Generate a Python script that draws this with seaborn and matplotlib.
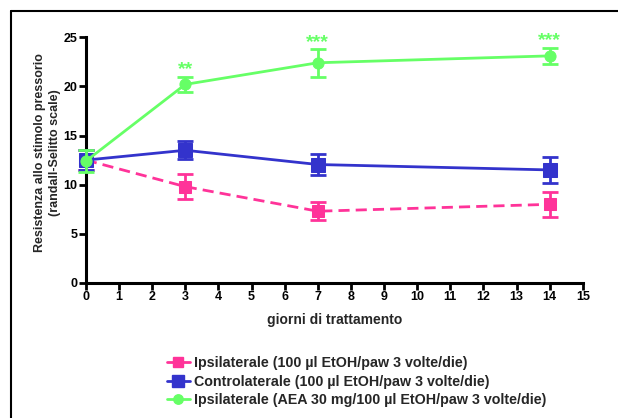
import matplotlib
matplotlib.use("Agg")
import matplotlib.pyplot as plt
import seaborn as sns
import pandas as pd
from matplotlib.lines import Line2D

days = [0, 3, 7, 14]
ipsi_mean = [12.5, 9.8, 7.3, 8.0]
ipsi_err = [1.0, 1.25, 0.9, 1.3]
contro_mean = [12.5, 13.5, 12.05, 11.5]
contro_err = [1.0, 0.9, 1.1, 1.3]
aea_mean = [12.4, 20.2, 22.4, 23.1]
aea_err = [1.1, 0.8, 1.4, 0.8]
labels = ["Ipsilaterale (100 \u00b5l EtOH/paw 3 volte/die)",
          "Controlaterale (100 \u00b5l EtOH/paw 3 volte/die)",
          "Ipsilaterale (AEA 30 mg/100 \u00b5l EtOH/paw 3 volte/die)"]
stars_x = [3, 7, 14]
stars_y = [21.7, 24.5, 24.7]
stars_txt = ["**", "***", "***"]

pink = "#FF3399"
blue = "#3333CC"
green = "#66FF66"

sns.set_style("ticks")
plt.rcParams['font.family'] = ['Liberation Sans', 'DejaVu Sans']
plt.rcParams['font.weight'] = 'bold'

fig = plt.figure(figsize=(6.18, 4.18), dpi=100)
ax = fig.add_axes([0.139, 0.323, 0.804, 0.588])

series = [
    (ipsi_mean, ipsi_err, pink, "s", 9, (0, (4, 2.2))),
    (contro_mean, contro_err, blue, "s", 10.5, "-"),
    (aea_mean, aea_err, green, "o", 8, "-"),
]
handles = []
for (m, e, c, mk, ms, ls), lab in zip(series, labels):
    df = pd.DataFrame({"x": days, "y": m})
    sns.lineplot(data=df, x="x", y="y", ax=ax, color=c, marker=mk, markersize=ms,
                 markeredgecolor=c, linewidth=2.0, linestyle=ls, clip_on=False, zorder=3)
    ax.errorbar(days, m, yerr=e, fmt="none", ecolor=c, elinewidth=2.0, capsize=5.5,
                capthick=2.0, clip_on=False, zorder=3)
    handles.append(Line2D([], [], color=c, marker=mk, markersize=ms * 0.85, linewidth=2.0,
                          linestyle="-", markeredgecolor=c))

for x, y, t in zip(stars_x, stars_y, stars_txt):
    ax.text(x, y, t, color=green, fontsize=14, fontweight="bold", ha="center", va="center")

ax.set_xlim(0, 15)
ax.set_ylim(0, 25)
ax.set_xticks(range(0, 16))
ax.set_yticks(range(0, 26, 5))
for s in ["top", "right"]:
    ax.spines[s].set_visible(False)
for s in ["left", "bottom"]:
    ax.spines[s].set_linewidth(2.2)
    ax.spines[s].set_color("black")
ax.tick_params(axis="both", width=2.0, length=5, labelsize=9, pad=1, colors="black")
for lbl in ax.get_xticklabels() + ax.get_yticklabels():
    lbl.set_fontweight("bold")
ax.set_xlabel("giorni di trattamento", fontsize=10, fontweight="bold", labelpad=7)
ax.set_ylabel("Resistenza allo stimolo pressorio\n(randall-Selitto scale)", fontsize=9,
              fontweight="bold", linespacing=1.3)
ax.yaxis.set_label_coords(-0.050, 0.53)

leg = fig.legend(handles, labels, loc="upper left", bbox_to_anchor=(0.270, 0.148),
                 frameon=False, fontsize=10.3, handlelength=1.6, handletextpad=0.3,
                 labelspacing=0.32, borderaxespad=0, borderpad=0)
for t in leg.get_texts():
    t.set_fontweight("bold")

fig.add_artist(Line2D([0.018, 0.018], [0.0, 0.974], transform=fig.transFigure, color="black", linewidth=1.5))
fig.add_artist(Line2D([0.018, 1.0], [0.974, 0.974], transform=fig.transFigure, color="black", linewidth=1.5))

fig.savefig("out.png", dpi=100)
